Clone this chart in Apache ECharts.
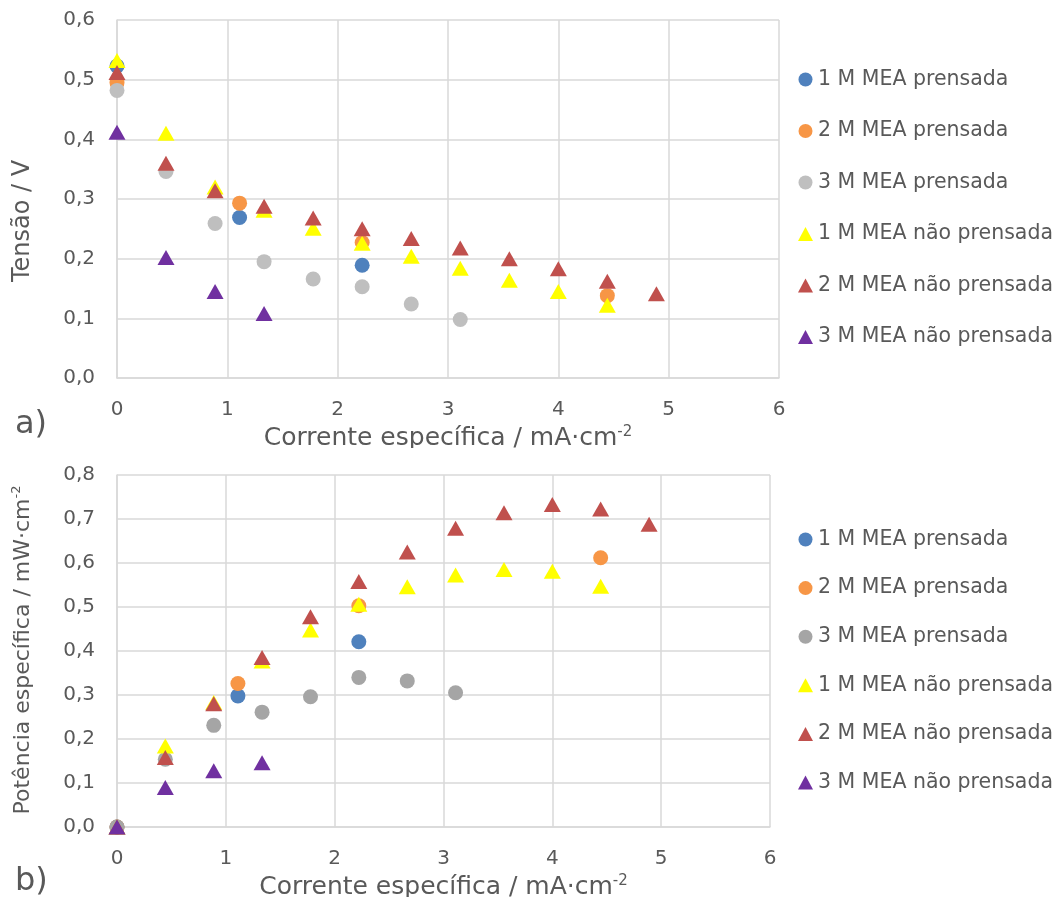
<!DOCTYPE html>
<html>
<head>
<meta charset="utf-8">
<script src="https://cdn.jsdelivr.net/npm/echarts@6/dist/echarts.min.js"></script>
<style>
html,body{margin:0;padding:0;background:#fff;overflow:hidden;}
#c1{position:absolute;left:0;top:0;width:1060px;height:448px;}
#c2{position:absolute;left:0;top:448px;width:1060px;height:449px;}
</style>
</head>
<body>
<div id="c1"></div>
<div id="c2"></div>
<script>
// ---- data ----
const seriesNames = ['1 M MEA prensada','2 M MEA prensada','3 M MEA prensada','1 M MEA não prensada','2 M MEA não prensada','3 M MEA não prensada'];
const x1p = [0, 1.111, 2.222];
const x2p = [0, 1.111, 2.222, 4.444];
const x3p = [0, 0.444, 0.889, 1.333, 1.778, 2.222, 2.667, 3.111];
const x1n = [0, 0.444, 0.889, 1.333, 1.778, 2.222, 2.667, 3.111, 3.556, 4.0, 4.444];
const x2n = [0, 0.444, 0.889, 1.333, 1.778, 2.222, 2.667, 3.111, 3.556, 4.0, 4.444, 4.889];
const x3n = [0, 0.444, 0.889, 1.333];
// a) Tensão / V
const v1p = [0.523, 0.269, 0.189];
const v2p = [0.495, 0.293, 0.227, 0.138];
const v3p = [0.482, 0.346, 0.259, 0.195, 0.166, 0.153, 0.124, 0.098];
const v1n = [0.532, 0.410, 0.320, 0.281, 0.251, 0.226, 0.204, 0.184, 0.164, 0.145, 0.122];
const v2n = [0.512, 0.360, 0.314, 0.288, 0.268, 0.250, 0.234, 0.218, 0.200, 0.183, 0.162, 0.141];
const v3n = [0.412, 0.202, 0.145, 0.108];
// b) Potência específica / mW·cm-2
const p1p = [0, 0.298, 0.421];
const p2p = [0, 0.326, 0.503, 0.612];
const p3p = [0, 0.154, 0.231, 0.261, 0.296, 0.340, 0.332, 0.305];
const p1n = [0, 0.184, 0.283, 0.377, 0.448, 0.506, 0.546, 0.573, 0.585, 0.581, 0.547];
const p2n = [0, 0.158, 0.280, 0.385, 0.478, 0.558, 0.625, 0.679, 0.714, 0.733, 0.723, 0.688];
const p3n = [0, 0.0895, 0.128, 0.146];
const xTicks = [0, 1, 2, 3, 4, 5, 6];

// ---- styling ----
const FONT = 'DejaVu Sans';
const TXT = '#595959';
const GRIDC = '#d9d9d9';
const fmt = v => v.toFixed(1).replace('.', ',');
const pair = (xs, ys) => xs.map((x, i) => [x, ys[i]]);

function build(cfg) {
  const xs = [x1p, x2p, x3p, x1n, x2n, x3n];
  const symbols = ['circle','circle','circle','triangle','triangle','triangle'];
  const sizes = [15, 15, 15, [17, 15], [17, 15], [17, 15]];
  const series = seriesNames.map((n, i) => ({
    name: n, type: 'scatter', data: pair(xs[i], cfg.ys[i]),
    symbol: symbols[i], symbolSize: sizes[i],
    itemStyle: { color: cfg.colors[i], opacity: 1 },
    emphasis: { disabled: true }
  }));
  return {
    animation: false,
    backgroundColor: '#fff',
    textStyle: { fontFamily: FONT },
    grid: { left: 117, top: cfg.gridTop, width: cfg.gridW, height: cfg.gridH, containLabel: false, outerBoundsMode: 'none' },
    legend: {
      orient: 'vertical', left: 793, top: cfg.legTop,
      itemWidth: 15, itemHeight: 14, itemGap: cfg.legGap,
      textStyle: { color: TXT, fontSize: 20.5, fontFamily: FONT },
      data: seriesNames.map((n, i) => ({ name: n, icon: symbols[i] === 'circle' ? 'circle' : 'triangle' }))
    },
    xAxis: {
      type: 'value', min: xTicks[0], max: xTicks[xTicks.length - 1], interval: 1,
      name: '{m|Corrente específica / mA·cm}{s|-2}',
      nameLocation: 'middle', nameGap: cfg.xNameGap,
      nameTextStyle: { rich: {
        m: { color: TXT, fontSize: 25, fontFamily: FONT, lineHeight: 28 },
        s: { color: TXT, fontSize: 15, fontFamily: FONT, lineHeight: 28, verticalAlign: 'top' }
      } },
      axisLine: { show: true, lineStyle: { color: GRIDC, width: 1.5 } },
      axisTick: { show: false },
      axisLabel: { color: TXT, fontSize: 20, fontFamily: FONT, margin: 22 },
      splitLine: { show: true, lineStyle: { color: GRIDC, width: 1.5 } }
    },
    yAxis: {
      type: 'value', min: 0, max: cfg.yMax, interval: 0.1,
      axisLine: { show: true, lineStyle: { color: GRIDC, width: 1.5 } },
      axisTick: { show: false },
      axisLabel: { color: TXT, fontSize: 20, fontFamily: FONT, margin: 22, formatter: fmt },
      splitLine: { show: true, lineStyle: { color: GRIDC, width: 1.5 } }
    },
    graphic: [
      { type: 'text', x: cfg.yNameX, y: cfg.yNameY, rotation: Math.PI / 2,
        style: { text: cfg.yName, rich: cfg.yRich, fill: TXT, fontSize: cfg.yNameSize, fontFamily: FONT, align: 'center', verticalAlign: 'middle' } },
      { type: 'text', x: 15, y: cfg.tagY,
        style: { text: cfg.tag, fill: TXT, fontSize: 32, fontFamily: FONT, align: 'left', verticalAlign: 'middle' } }
    ],
    series
  };
}

const ch1 = echarts.init(document.getElementById('c1'), null, { renderer: 'canvas' });
ch1.setOption(build({
  ys: [v1p, v2p, v3p, v1n, v2n, v3n],
  colors: ['#4F81BD', '#F79646', '#BFBFBF', '#FFFF00', '#C0504D', '#7030A0'],
  gridTop: 20, gridW: 662, gridH: 358, yMax: 0.6,
  legTop: 64, legGap: 30.5, xNameGap: 38,
  yName: 'Tensão / V', yRich: null, yNameSize: 24, yNameX: 23, yNameY: 221,
  tag: 'a)', tagY: 425
}));

const ch2 = echarts.init(document.getElementById('c2'), null, { renderer: 'canvas' });
ch2.setOption(build({
  ys: [p1p, p2p, p3p, p1n, p2n, p3n],
  colors: ['#4F81BD', '#F79646', '#A5A5A5', '#FFFF00', '#C0504D', '#7030A0'],
  gridTop: 27, gridW: 653, gridH: 352, yMax: 0.8,
  legTop: 76, legGap: 27.6, xNameGap: 45,
  yName: '{m|Potência específica / mW·cm}{s|-2}', yNameSize: 22,
  yRich: { m: { fill: TXT, fontSize: 22, fontFamily: FONT, lineHeight: 26 }, s: { fill: TXT, fontSize: 13, fontFamily: FONT, lineHeight: 26, verticalAlign: 'top' } },
  yNameX: 23, yNameY: 202,
  tag: 'b)', tagY: 434
}));
</script>
</body>
</html>
